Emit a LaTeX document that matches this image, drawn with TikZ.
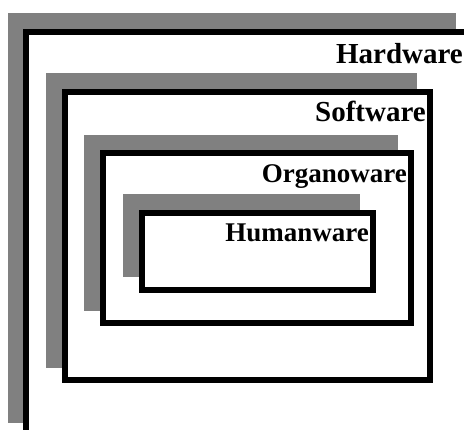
\documentclass[tikz,border=0pt]{standalone}
\usepackage{fontspec}
\setmainfont{Liberation Serif}
\tikzset{
  shadowbox/.style={fill={rgb,255:red,128;green,128;blue,128}, draw=none},
  layerbox/.style={fill=white, draw=black, line width=6pt},
  layerlabel/.style={anchor=base east, inner sep=0pt, font=\bfseries},
}
\begin{document}
\begin{tikzpicture}[x=1pt,y=-1pt]
\useasboundingbox (0,0) rectangle (464,430);
\clip (0,0) rectangle (464,430);
% Hardware
\fill[shadowbox] (8,13) rectangle (456,423);
\draw[layerbox] (26,32) rectangle (468,436);
\node[layerlabel, font=\fontsize{29}{32}\selectfont\bfseries] (hw) at (463,63.5) {Hardware};
% Software
\fill[shadowbox] (46,73) rectangle (417,368);
\draw[layerbox] (65,92) rectangle (430,380);
\node[layerlabel, font=\fontsize{29}{32}\selectfont\bfseries] (sw) at (426,121.5) {Software};
% Organoware
\fill[shadowbox] (84,135) rectangle (398,311);
\draw[layerbox] (103,153) rectangle (411,323);
\node[layerlabel, font=\fontsize{27}{30}\selectfont\bfseries] (ow) at (407,183) {Organoware};
% Humanware
\fill[shadowbox] (123,194) rectangle (360,277);
\draw[layerbox] (142,213) rectangle (373,290);
\node[layerlabel, font=\fontsize{27}{30}\selectfont\bfseries] (huw) at (369,242) {Humanware};
\end{tikzpicture}
\end{document}
